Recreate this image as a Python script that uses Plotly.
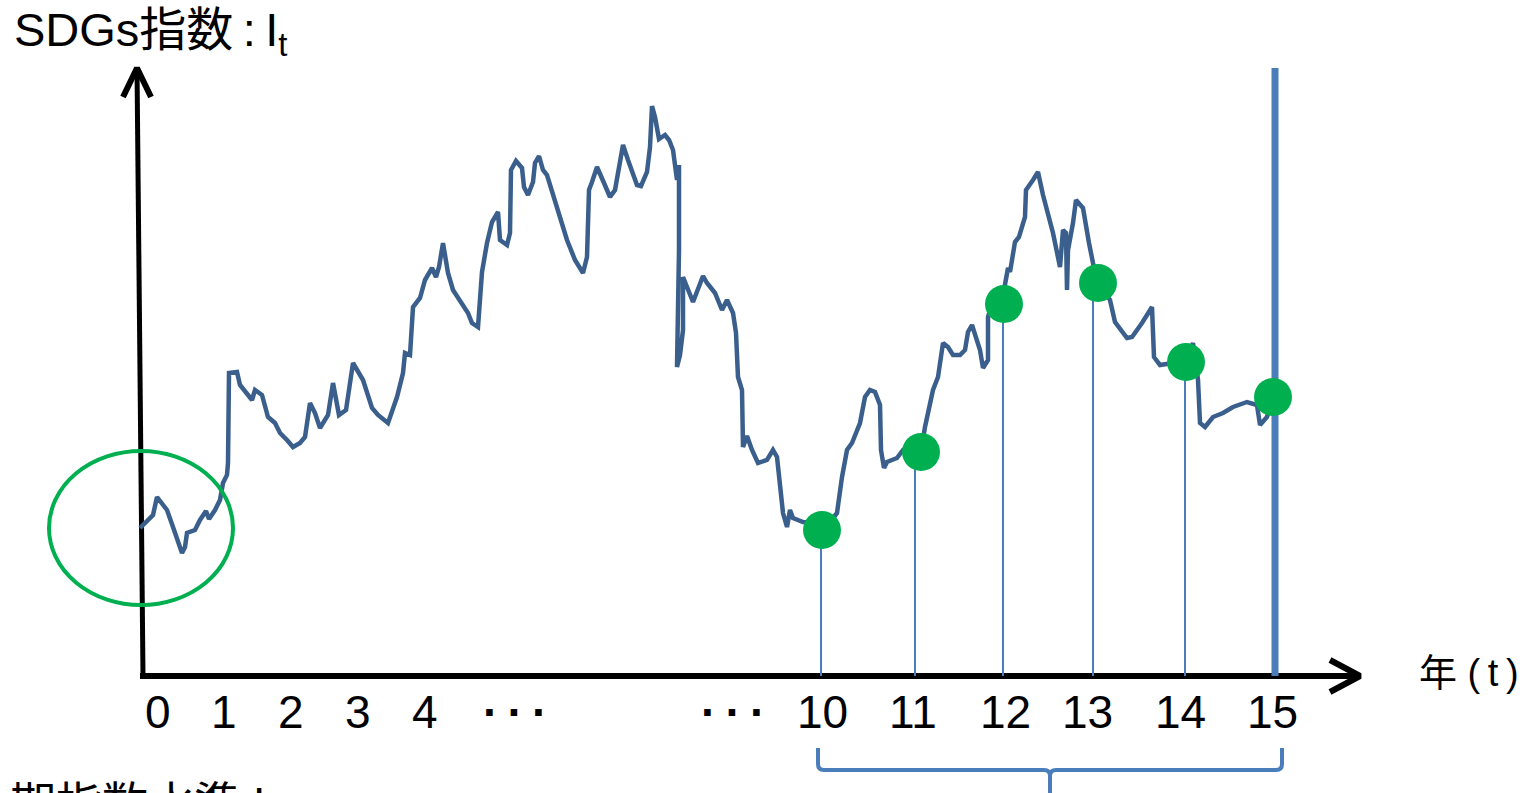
import plotly.graph_objects as go

# SDGs index path (t: time position along the axis, I: index level)
t = [0, 13, 17, 27, 33, 38, 42, 45, 47, 55, 60, 66, 69, 75, 80, 83, 87, 88, 89, 97,
     100, 112, 115, 122, 128, 135, 140, 147, 153, 160, 165, 170, 175, 180, 188, 193, 199, 206, 213, 223,
     232, 238, 248, 257, 263, 265, 270, 273, 280, 285, 292, 296, 299, 303, 308, 313, 323, 328, 332, 338,
     342, 347, 352, 358, 360, 367, 370, 371, 376, 382, 384, 388, 393, 395, 399, 403, 407, 417, 427, 435,
     443, 447, 449, 452, 457, 464, 470, 475, 483, 488, 495, 497, 501, 507, 510, 512, 515, 519, 525, 529,
     533, 535, 537, 539, 539, 537, 540, 543, 543, 553, 563, 567, 575, 582, 587, 593, 596, 598, 602, 603,
     607, 612, 618, 627, 633, 637, 640, 643, 647, 650, 653, 663, 677, 682, 690, 697, 702, 707, 712, 720,
     725, 730, 735, 740, 741, 744, 747, 757, 763, 770, 781, 785, 793, 798, 803, 808, 813, 820, 825, 828,
     832, 837, 840, 843, 848, 848, 853, 864, 865, 868, 870, 875, 879, 885, 886, 890, 893, 898, 903, 913,
     920, 923, 926, 927, 928, 933, 936, 943, 946, 949, 953, 958, 964, 970, 975, 987, 992, 1002, 1012, 1014,
     1020, 1033, 1047, 1053, 1056, 1058, 1060, 1065, 1073, 1083, 1093, 1107, 1117, 1120, 1127, 1133]
index_level = [148, 161, 179, 166, 149, 136, 123, 129, 143, 146, 156, 165, 157, 166, 176, 193, 201, 213, 303, 304,
               291, 276, 286, 281, 259, 253, 243, 236, 229, 233, 239, 273, 263, 248, 261, 293, 261, 266, 313, 296,
               268, 261, 253, 279, 303, 323, 321, 369, 378, 396, 408, 399, 409, 433, 403, 386, 371, 363, 353, 349,
               404, 433, 454, 464, 436, 431, 443, 506, 515, 508, 489, 481, 494, 513, 520, 506, 501, 469, 436, 416,
               403, 419, 486, 494, 509, 493, 479, 486, 531, 516, 496, 491, 490, 504, 529, 570, 559, 537, 541, 536,
               526, 509, 496, 511, 426, 309, 321, 346, 399, 374, 400, 393, 383, 366, 376, 363, 343, 299, 286, 229,
               240, 226, 213, 216, 226, 219, 193, 163, 149, 166, 158, 154, 153, 149, 154, 163, 199, 226, 233, 253,
               279, 286, 284, 271, 226, 208, 214, 218, 226, 224, 224, 249, 286, 299, 333, 329, 321, 321, 326, 344,
               351, 336, 326, 308, 316, 359, 376, 386, 393, 408, 404, 434, 439, 459, 486, 493, 496, 504, 481, 443,
               409, 446, 443, 386, 426, 453, 476, 468, 449, 433, 413, 393, 384, 376, 354, 338, 339, 353, 369, 319,
               311, 313, 314, 333, 311, 296, 253, 249, 259, 263, 269, 274, 271, 251, 259, 279]

# Annual observation points (years 10-15)
obs_t = [682, 781, 864, 958, 1046, 1133]
obs_level = [146, 224, 372, 393, 314, 279]
stem_t = [681, 775, 863, 953, 1045]
current_t = 1135
current_top = 608

# Year axis labels
tick_t = [18, 84, 151, 218, 285, 375, 593, 682, 773, 865, 947, 1040, 1132]
tick_text = ["0", "1", "2", "3", "4", "···", "···", "10", "11", "12", "13", "14", "15"]

# Base period highlight (ellipse bounds)
base_x = [-91, 93]
base_y = [71, 225]

# Axis geometry
x_axis_end = 1220
y_axis_bottom_t, y_axis_top_t, y_axis_top = 3, -3, 608

LINE_BLUE = "#3A5F8C"
STEM_BLUE = "#4A7EBB"
GREEN = "#00B050"
FONT = "Liberation Sans, Arial, Noto Sans CJK JP, sans-serif"
THIN = "\u2009"

fig = go.Figure()

# Axes with chevron arrowheads
axis_style = dict(color="black", width=6)
fig.add_trace(go.Scatter(x=[0, x_axis_end], y=[0, 0], mode="lines", line=axis_style, hoverinfo="skip"))
fig.add_trace(go.Scatter(x=[x_axis_end - 30, x_axis_end, x_axis_end - 30], y=[16, 0, -16],
                         mode="lines", line=axis_style, hoverinfo="skip"))
fig.add_trace(go.Scatter(x=[y_axis_bottom_t, y_axis_top_t], y=[0, y_axis_top], mode="lines",
                         line=dict(color="black", width=5), hoverinfo="skip"))
fig.add_trace(go.Scatter(x=[y_axis_top_t - 14, y_axis_top_t, y_axis_top_t + 14],
                         y=[y_axis_top - 29, y_axis_top, y_axis_top - 29],
                         mode="lines", line=axis_style, hoverinfo="skip"))

# Stems from each observation down to the time axis
for st, lv in zip(stem_t, obs_level):
    fig.add_trace(go.Scatter(x=[st, st], y=[0, lv], mode="lines",
                             line=dict(color=STEM_BLUE, width=2), hoverinfo="skip"))
fig.add_trace(go.Scatter(x=[current_t, current_t], y=[0, current_top], mode="lines",
                         line=dict(color=STEM_BLUE, width=7), hoverinfo="skip"))

# Index path
fig.add_trace(go.Scatter(x=t, y=index_level, mode="lines",
                         line=dict(color=LINE_BLUE, width=4.5), hoverinfo="skip"))

# Annual observations
fig.add_trace(go.Scatter(x=obs_t, y=obs_level, mode="markers",
                         marker=dict(color=GREEN, size=38, line=dict(width=0)), hoverinfo="skip"))

# Base period ellipse
fig.add_shape(type="circle", xref="x", yref="y", x0=base_x[0], x1=base_x[1], y0=base_y[0], y1=base_y[1],
              line=dict(color=GREEN, width=4))

# Brace under years 10-15
bl, br, bm = 678, 1142, 910
btop, bmid, bbot = -72, -94, -125
r = 6
brace = (f"M {bl},{btop} L {bl},{bmid + r} Q {bl},{bmid} {bl + r},{bmid} L {bm - r},{bmid} "
         f"Q {bm},{bmid} {bm},{bmid - r} L {bm},{bbot} M {bm},{bmid - r} Q {bm},{bmid} {bm + r},{bmid} "
         f"L {br - r},{bmid} Q {br},{bmid} {br},{bmid + r} L {br},{btop}")
fig.add_shape(type="path", xref="x", yref="y", path=brace, line=dict(color=STEM_BLUE, width=4))

# Tick labels
for tv, tx in zip(tick_t, tick_text):
    label = "<b>" + THIN.join(tx) + "</b>" if tx == "···" else tx
    fig.add_annotation(x=tv, y=-36, text=label,
                       showarrow=False, xanchor="center", yanchor="middle",
                       font=dict(family=FONT, size=46, color="black"))

fig.add_annotation(x=-128, y=643, text="SDGs指数" + THIN + ":" + THIN + "I<sub>t</sub>", showarrow=False,
                   xanchor="left", yanchor="middle", font=dict(family=FONT, size=47, color="black"))
fig.add_annotation(x=1277, y=3, text="年 (" + THIN + "t" + THIN + ")", showarrow=False,
                   xanchor="left", yanchor="middle", font=dict(family=FONT, size=38, color="black"))
fig.add_annotation(xref="paper", yref="paper", x=8 / 1525, y=-14 / 793, text="期指数水準:I<sub>0</sub>",
                   showarrow=False, xanchor="left", yanchor="middle",
                   font=dict(family=FONT, size=46, color="black"))

fig.update_layout(
    width=1525, height=793, autosize=False,
    margin=dict(l=0, r=0, t=0, b=0, pad=0),
    paper_bgcolor="white", plot_bgcolor="white",
    showlegend=False,
    xaxis=dict(range=[-140, 1385], visible=False, fixedrange=True),
    yaxis=dict(range=[-117, 676], visible=False, fixedrange=True),
)

fig.write_html("out.html", config={"displayModeBar": False})
